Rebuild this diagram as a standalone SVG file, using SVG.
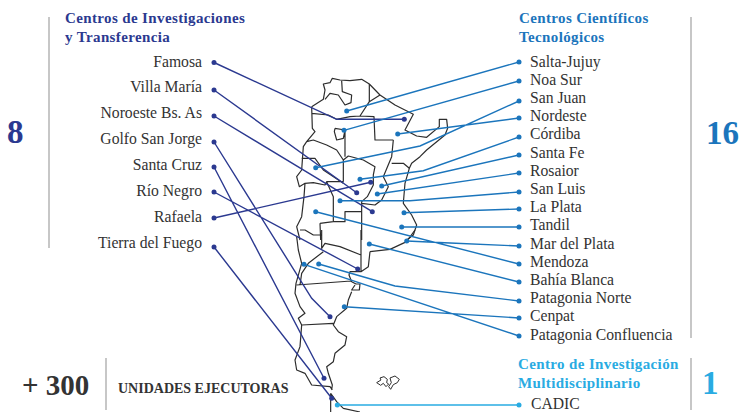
<svg xmlns="http://www.w3.org/2000/svg" width="739" height="412" viewBox="0 0 739 412">
<defs><style>
text{font-family:"Liberation Serif","Times New Roman",serif}
.l{font-size:15.7px;fill:#333}
.e{text-anchor:end}
.h{font-size:15px;font-weight:700;letter-spacing:.37px}
.n{font-weight:700;font-size:33px}
.d{fill:#2b3990}.b{fill:#1b75bc}.c{fill:#29abe2}
.bar{stroke:#a9a9a9;stroke-width:1.3;fill:none}
.m{fill:none;stroke:#2d2d2d;stroke-width:3.6;stroke-linejoin:round}
.cd,.cb,.cc{fill:none;stroke-width:1.4}
.cd{stroke:#2b3990}.cb{stroke:#1b75bc}.cc{stroke:#29abe2}
</style></defs>
<rect width="739" height="412" fill="#fff"/>
<g id="map">
<g transform="translate(280 60) scale(.3333)">
<path class="m" d="M95 140L130 118L135 90L130 72L150 68L157 55L180 60L210 62L245 58L268 72L300 105L345 135L400 163L375 210L410 228L440 232L478 200L478 178L500 178L503 205L495 225L440 270L420 290L395 310L388 325L375 370L370 430L395 465L410 495L400 525L380 540"/>
<path class="m" d="M185 62L187 95L215 105L213 128L195 135L175 105L150 100L135 118M268 72L268 125L240 168L282 170L285 240L340 240M268 125L300 105M170 178L210 170L240 168M170 178L145 165L95 160M95 140L97 205L105 215L80 245L70 260L65 330L50 350L58 380L75 370L100 368L135 375L140 365L190 365M165 205L195 210L190 235L170 240L163 215L165 205M80 245L100 240L140 255L170 270L190 300L190 365M195 210L195 290M65 295L105 295L130 330L190 370M190 300L205 288L250 300L285 320L280 345L280 375L262 410L245 425L245 540M340 240L335 290L310 350L325 380L305 420L285 435L245 430M335 310L370 310L388 325M140 365L160 410L160 485L195 485L195 455L245 455M75 370L72 410L65 470L50 500L60 540M120 490L160 485M120 490L122 540"/>
</g>
<g transform="translate(280 230) scale(.3333)">
<path class="m" d="M60 0L75 0L100 15L125 15M50 20L55 60L65 100L48 160L45 190L60 230L75 250L55 265L65 285L60 350L45 390L50 420L75 430L95 465L150 470L157 480M125 0L125 55L135 40L180 50L243 75M130 65L85 100L65 130L60 165M243 0L243 125L210 125L207 135L215 155M50 165L213 153M270 65L265 110L243 125M270 65L330 58L380 35L405 0M215 155L228 162L240 162L238 180L215 180L225 165M215 185L205 210L200 235L170 260L160 285L175 305L200 320L195 345L165 370L160 395L140 410L145 430L157 465L155 480M65 285L160 280M152 490L152 546M152 490L170 515L190 535L240 546"/>
<path class="m" style="stroke-width:3" d="M290 458L303 450L300 444L312 440L322 448L320 458L326 462L318 470L310 460L302 466ZM330 444L345 438L358 448L352 458L340 464L332 478L326 470L334 458Z"/>
</g>
</g>
<g id="connectors">
<path class="cd" d="M214 62.5L336.7 119.3H404.3M214 90L356.7 192.7M214 116L372.3 211.7M214 142L311.7 298.3L330 316.7M214 167L324 378.3M214 192L357.7 269M214 218L370.7 182.3M214 247L331.7 398.3"/>
<path class="cb" d="M519 62L346.7 111M519 81L344 130.3M519 101L420 146L315.7 167.7M519 118L397.7 134M519 137L423.3 170.7L360 179.3M519 155L381.7 186M519 173L377.3 194M519 192L410 200.7H340M519 209L404 212.7M519 227H401.7M519 246L450 243L406.7 241M519 264L315.7 211.7M519 282L369.3 244M519 301L395 286L318.7 264M519 318L344.3 306.7M519 336L304 264.3"/>
<path class="cc" d="M519 405H337.3"/>
<g class="d">
<circle cx="214" cy="62.5" r="2.5"/><circle cx="214" cy="90" r="2.5"/><circle cx="214" cy="116" r="2.5"/><circle cx="214" cy="142" r="2.5"/><circle cx="214" cy="167" r="2.5"/><circle cx="214" cy="192" r="2.5"/><circle cx="214" cy="218" r="2.5"/><circle cx="214" cy="247" r="2.5"/>
<circle cx="404.3" cy="119.3" r="2.5"/><circle cx="356.7" cy="192.7" r="2.5"/><circle cx="372.3" cy="211.7" r="2.5"/><circle cx="330" cy="316.7" r="2.5"/><circle cx="324" cy="378.3" r="2.5"/><circle cx="357.7" cy="269" r="2.5"/><circle cx="370.7" cy="182.3" r="2.5"/><circle cx="331.7" cy="398.3" r="2.5"/>
</g>
<g class="b">
<circle cx="519" cy="62" r="2.5"/><circle cx="519" cy="81" r="2.5"/><circle cx="519" cy="101" r="2.5"/><circle cx="519" cy="118" r="2.5"/><circle cx="519" cy="137" r="2.5"/><circle cx="519" cy="155" r="2.5"/><circle cx="519" cy="173" r="2.5"/><circle cx="519" cy="192" r="2.5"/><circle cx="519" cy="209" r="2.5"/><circle cx="519" cy="227" r="2.5"/><circle cx="519" cy="246" r="2.5"/><circle cx="519" cy="264" r="2.5"/><circle cx="519" cy="282" r="2.5"/><circle cx="519" cy="301" r="2.5"/><circle cx="519" cy="318" r="2.5"/><circle cx="519" cy="336" r="2.5"/>
<circle cx="346.7" cy="111" r="2.5"/><circle cx="344" cy="130.3" r="2.5"/><circle cx="315.7" cy="167.7" r="2.5"/><circle cx="397.7" cy="134" r="2.5"/><circle cx="360" cy="179.3" r="2.5"/><circle cx="381.7" cy="186" r="2.5"/><circle cx="377.3" cy="194" r="2.5"/><circle cx="340" cy="200.7" r="2.5"/><circle cx="404" cy="212.7" r="2.5"/><circle cx="401.7" cy="227" r="2.5"/><circle cx="406.7" cy="241" r="2.5"/><circle cx="315.7" cy="211.7" r="2.5"/><circle cx="369.3" cy="244" r="2.5"/><circle cx="318.7" cy="264" r="2.5"/><circle cx="344.3" cy="306.7" r="2.5"/><circle cx="304" cy="264.3" r="2.5"/>
</g>
<g class="c"><circle cx="519" cy="405" r="2.5"/><circle cx="337.3" cy="405" r="2.5"/></g>
</g>
<g id="group-investigacion">
<path class="bar" d="M49 17V248"/>
<text class="n d" x="7" y="143">8</text>
<text class="h d" x="65" y="23">Centros de Investigaciones</text>
<text class="h d" x="65" y="42">y Transferencia</text>
<text class="l e" x="202" y="67">Famosa</text>
<text class="l e" x="202" y="92">Villa María</text>
<text class="l e" x="202" y="118">Noroeste Bs. As</text>
<text class="l e" x="202" y="144">Golfo San Jorge</text>
<text class="l e" x="202" y="170">Santa Cruz</text>
<text class="l e" x="202" y="196">Río Negro</text>
<text class="l e" x="202" y="222">Rafaela</text>
<text class="l e" x="202" y="248">Tierra del Fuego</text>
</g>
<g id="group-cientificos">
<path class="bar" d="M691 17V338"/>
<text class="n b" x="706" y="144">16</text>
<text class="h b" x="519" y="23">Centros Científicos</text>
<text class="h b" x="519" y="42">Tecnológicos</text>
<text class="l" x="530" y="67">Salta-Jujuy</text>
<text class="l" x="530" y="85">Noa Sur</text>
<text class="l" x="530" y="103">San Juan</text>
<text class="l" x="530" y="121">Nordeste</text>
<text class="l" x="530" y="139">Córdiba</text>
<text class="l" x="530" y="158">Santa Fe</text>
<text class="l" x="530" y="176">Rosaior</text>
<text class="l" x="530" y="194">San Luis</text>
<text class="l" x="530" y="212">La Plata</text>
<text class="l" x="530" y="230">Tandil</text>
<text class="l" x="530" y="249">Mar del Plata</text>
<text class="l" x="530" y="267">Mendoza</text>
<text class="l" x="530" y="285">Bahía Blanca</text>
<text class="l" x="530" y="303">Patagonia Norte</text>
<text class="l" x="530" y="321">Cenpat</text>
<text class="l" x="530" y="340">Patagonia Confluencia</text>
</g>
<g id="group-multidisciplinario">
<path class="bar" d="M691 358V410"/>
<text class="n c" x="702" y="394">1</text>
<text class="h c" x="518" y="369">Centro de Investigación</text>
<text class="h c" x="518" y="388">Multidisciplinario</text>
<text class="l" x="531" y="408.5">CADIC</text>
</g>
<g id="group-unidades">
<path class="bar" d="M106 358V410"/>
<text x="22" y="395" style="font-size:29px;font-weight:700;fill:#333">+ 300</text>
<text x="118" y="393" style="font-size:14px;font-weight:700;fill:#333">UNIDADES EJECUTORAS</text>
</g>
</svg>
